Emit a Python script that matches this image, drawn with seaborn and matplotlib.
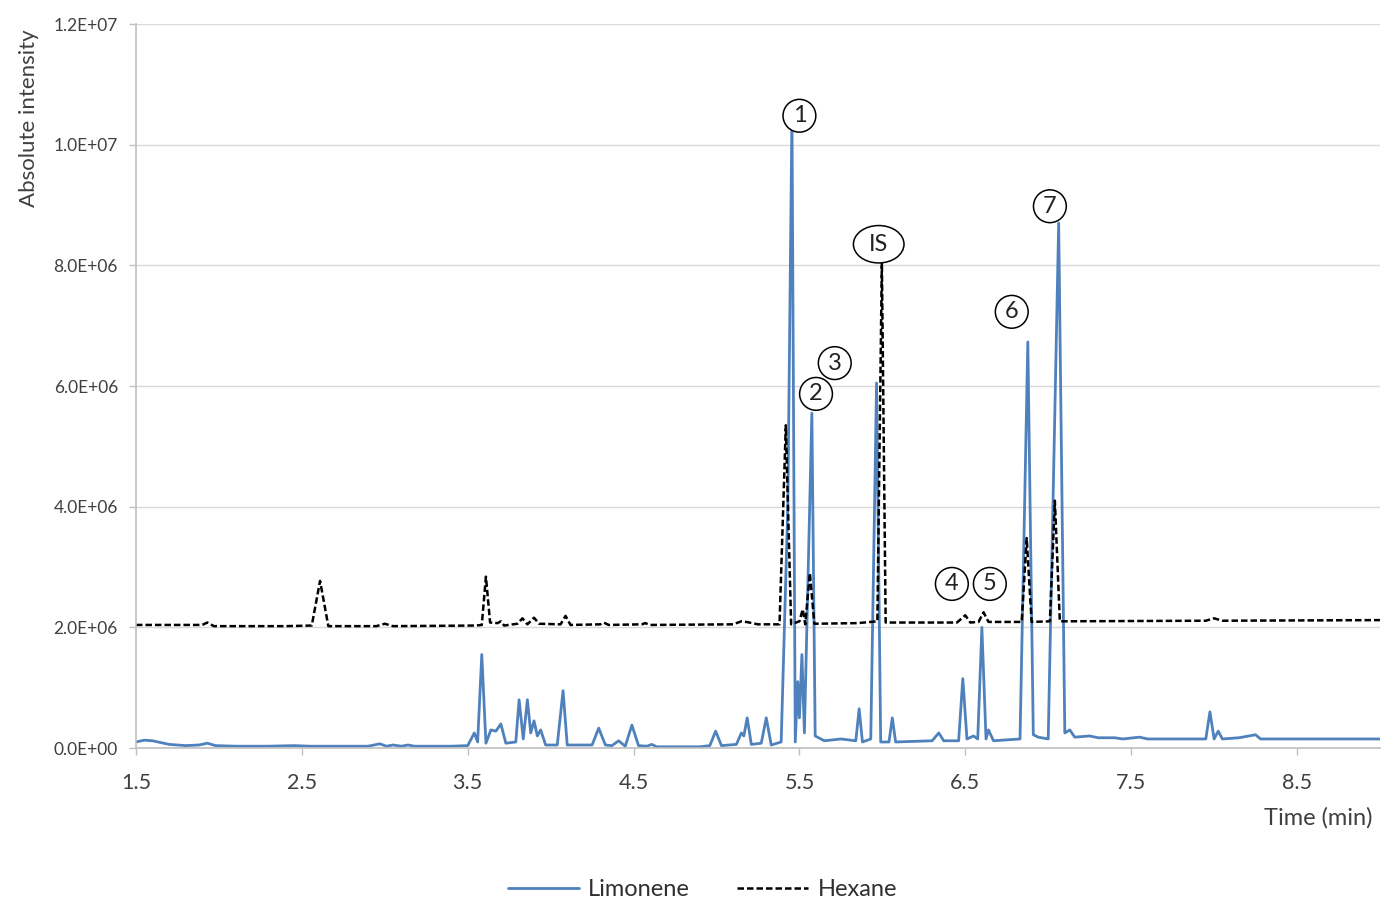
import numpy as np
import pandas as pd
import matplotlib
matplotlib.use("Agg")
import matplotlib.pyplot as plt
import seaborn as sns
from matplotlib.patches import Ellipse
from matplotlib.ticker import FuncFormatter, MultipleLocator

# Limonene trace (time in min, intensity in 1E6 counts)
limonene_time = [1.50, 1.55, 1.60, 1.70, 1.80, 1.88, 1.93, 1.98, 2.10, 2.30, 2.45, 2.55, 2.70, 2.90,
                 2.97, 3.01, 3.05, 3.10, 3.14, 3.18, 3.40, 3.50, 3.54, 3.56, 3.585, 3.61, 3.64, 3.67,
                 3.70, 3.73, 3.79, 3.81, 3.835, 3.86, 3.88, 3.90, 3.92, 3.94, 3.97, 4.04, 4.075, 4.10,
                 4.25, 4.29, 4.33, 4.37, 4.41, 4.45, 4.49, 4.53, 4.58, 4.61, 4.64, 4.90, 4.96, 4.995,
                 5.03, 5.12, 5.15, 5.165, 5.185, 5.21, 5.27, 5.30, 5.33, 5.39, 5.43, 5.455, 5.475,
                 5.49, 5.50, 5.515, 5.53, 5.575, 5.595, 5.65, 5.75, 5.84, 5.86, 5.88, 5.93, 5.965,
                 5.99, 6.04, 6.06, 6.08, 6.30, 6.34, 6.37, 6.46, 6.485, 6.51, 6.55, 6.575, 6.60,
                 6.625, 6.64, 6.67, 6.83, 6.877, 6.91, 6.94, 7.00, 7.063, 7.10, 7.13, 7.16, 7.25,
                 7.30, 7.40, 7.45, 7.55, 7.60, 7.95, 7.975, 8.00, 8.025, 8.05, 8.15, 8.25, 8.28,
                 8.60, 9.00]
limonene_int = [0.10, 0.13, 0.12, 0.06, 0.04, 0.05, 0.08, 0.04, 0.03, 0.03, 0.04, 0.03, 0.03, 0.03,
                0.07, 0.03, 0.05, 0.03, 0.05, 0.03, 0.03, 0.04, 0.25, 0.10, 1.55, 0.08, 0.30, 0.28,
                0.40, 0.08, 0.10, 0.80, 0.15, 0.80, 0.25, 0.45, 0.20, 0.30, 0.05, 0.05, 0.95, 0.05,
                0.05, 0.33, 0.05, 0.04, 0.12, 0.03, 0.38, 0.04, 0.03, 0.06, 0.02, 0.02, 0.04, 0.28,
                0.04, 0.06, 0.25, 0.20, 0.50, 0.06, 0.08, 0.50, 0.05, 0.10, 4.00, 10.50, 0.10,
                1.10, 0.50, 1.55, 0.25, 5.55, 0.20, 0.12, 0.15, 0.12, 0.65, 0.10, 0.15, 6.05,
                0.10, 0.10, 0.50, 0.10, 0.12, 0.25, 0.12, 0.12, 1.15, 0.15, 0.20, 0.15, 2.00,
                0.15, 0.30, 0.12, 0.15, 6.73, 0.22, 0.18, 0.15, 8.70, 0.25, 0.30, 0.18, 0.20,
                0.17, 0.17, 0.15, 0.18, 0.15, 0.15, 0.60, 0.15, 0.28, 0.15, 0.17, 0.22, 0.15,
                0.15, 0.15]

# Hexane trace
hexane_time = [1.50, 1.90, 1.93, 1.97, 2.40, 2.56, 2.61, 2.66, 2.95, 3.00, 3.05, 3.55, 3.585, 3.61,
               3.635, 3.68, 3.70, 3.72, 3.80, 3.83, 3.86, 3.90, 3.93, 4.06, 4.09, 4.12, 4.30, 4.32,
               4.35, 4.55, 4.57, 4.60, 5.10, 5.15, 5.18, 5.25, 5.38, 5.418, 5.45, 5.50, 5.52, 5.535,
               5.563, 5.59, 5.85, 5.97, 5.997, 6.02, 6.45, 6.50, 6.53, 6.58, 6.61, 6.64, 6.84, 6.87,
               6.90, 7.01, 7.04, 7.07, 7.95, 8.00, 8.05, 9.00]
hexane_int = [2.04, 2.04, 2.08, 2.02, 2.02, 2.03, 2.77, 2.02, 2.02, 2.06, 2.02, 2.03, 2.04, 2.84,
              2.08, 2.07, 2.10, 2.03, 2.06, 2.15, 2.05, 2.16, 2.06, 2.05, 2.19, 2.04, 2.05, 2.08,
              2.04, 2.05, 2.07, 2.04, 2.05, 2.10, 2.09, 2.05, 2.05, 5.35, 2.05, 2.10, 2.30, 2.05,
              2.90, 2.06, 2.07, 2.10, 8.05, 2.08, 2.08, 2.20, 2.08, 2.09, 2.25, 2.09, 2.09, 3.48,
              2.09, 2.10, 4.10, 2.10, 2.11, 2.15, 2.11, 2.12]

x_ticks = [1.5, 2.5, 3.5, 4.5, 5.5, 6.5, 7.5, 8.5]

# circled peak labels
peak_labels = ["1", "2", "3", "IS", "4", "5", "6", "7"]
label_time = [5.50, 5.60, 5.713, 5.978, 6.419, 6.648, 6.78, 7.01]
label_int = [10.48, 5.87, 6.38, 8.35, 2.72, 2.72, 7.23, 8.98]

sns.set_theme(style="white")
plt.rcParams['font.family'] = ['Lato', 'DejaVu Sans']

fig = plt.figure(figsize=(13.83, 9.14), dpi=100)
ax = fig.add_axes([0.0983, 0.1816, 0.8995, 0.7921])

lim = pd.DataFrame({"t": limonene_time, "I": np.array(limonene_int) * 1e6})
hex_ = pd.DataFrame({"t": hexane_time, "I": np.array(hexane_int) * 1e6})

sns.lineplot(data=lim, x="t", y="I", ax=ax, color="#4F81BD", lw=2.0, label="Limonene")
sns.lineplot(data=hex_, x="t", y="I", ax=ax, color="black", lw=1.8,
             linestyle=(0, (2.6, 1.2)), label="Hexane")

for lab, t, v in zip(peak_labels, label_time, label_int):
    if lab == "IS":
        # oval outline for the internal standard label
        ax.add_patch(Ellipse((t, v * 1e6), 0.305, 0.62e6, fc="white", ec="black", lw=1.1, zorder=4))
        ax.text(t, v * 1e6, lab, ha="center", va="center", fontsize=17, color="#222222", zorder=5)
    else:
        ax.text(t, v * 1e6, lab, ha="center", va="center", fontsize=17, color="#222222", zorder=5,
                bbox=dict(boxstyle="circle,pad=0.25", fc="white", ec="black", lw=1.1))

ax.set_xlim(1.5, 9.0)
ax.set_ylim(0, 1.2e7)
ax.set_xticks(x_ticks)
ax.set_xticklabels([str(v) for v in x_ticks])
ax.yaxis.set_major_locator(MultipleLocator(2e6))
ax.yaxis.set_major_formatter(FuncFormatter(lambda v, p: f"{v:.1E}"))
ax.grid(axis="y", color="#D9D9D9", lw=1)
ax.set_axisbelow(True)
for s in ["top", "right"]:
    ax.spines[s].set_visible(False)
for s in ["left", "bottom"]:
    ax.spines[s].set_color("#BFBFBF")
    ax.spines[s].set_linewidth(1.2)
ax.tick_params(axis="y", labelsize=12.5, colors="#404040", length=5, width=1, color="#BFBFBF", pad=8, left=True)
ax.tick_params(axis="x", labelsize=15.5, colors="#404040", length=5, width=1, color="#BFBFBF", pad=13, bottom=True)

ax.set_xlabel("")
ax.set_ylabel("Absolute intensity", fontsize=16, color="#404040")
ax.yaxis.set_label_coords(-0.078, 0.87)
fig.text(0.953, 0.105, "Time (min)", ha="center", va="center", fontsize=17, color="#404040")

ax.legend_.remove()
handles, labels = ax.get_legend_handles_labels()
fig.legend(handles, labels, loc="center", bbox_to_anchor=(0.508, 0.027), ncol=2, frameon=False,
           fontsize=17, handlelength=3.0, handletextpad=0.4, columnspacing=2.0, labelcolor="#303030")

fig.savefig("out.png", dpi=100)
